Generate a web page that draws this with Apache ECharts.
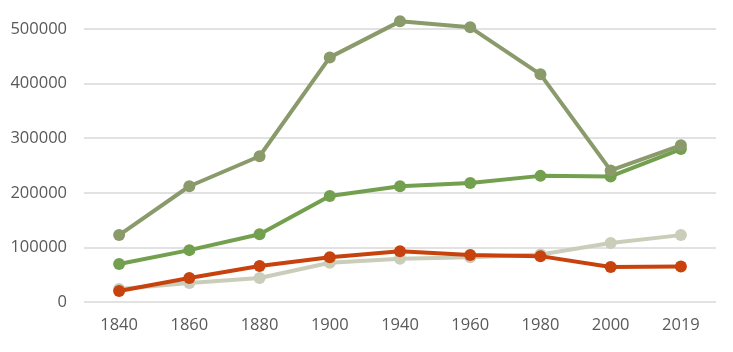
<!DOCTYPE html>
<html lang="en">
<head>
  <meta charset="UTF-8">
  <title>chart</title>
  <style>
    html, body { margin: 0; padding: 0; background: #fff; }
    #myEcharts { width: 733px; height: 352px; }
  </style>
  <script src="https://cdn.jsdelivr.net/npm/echarts@6/dist/echarts.min.js"></script>
</head>
<body>
<div id="myEcharts"></div>
<script>
  // data
  var years = ['1840', '1860', '1880', '1900', '1940', '1960', '1980', '2000', '2019'];
  var seriesA = [122500, 212000, 267000, 448000, 514000, 503000, 417000, 241000, 287000];
  var seriesB = [69500, 95000, 124000, 194000, 212000, 218000, 231000, 230000, 280000];
  var seriesC = [24000, 35000, 44000, 72000, 79000, 82000, 87000, 108000, 122500];
  var seriesD = [20000, 44000, 66000, 82000, 93000, 86000, 84000, 64000, 65000];

  var myChart = echarts.init(document.getElementById('myEcharts'));

  function line(data, color, z) {
    return {
      type: 'line',
      data: data,
      z: z,
      clip: false,
      symbol: 'circle',
      symbolSize: 12,
      lineStyle: { color: color, width: 4 },
      itemStyle: { color: color },
      animation: false
    };
  }

  var option = {
    animation: false,
    grid: { left: 84, right: 17, top: 29, bottom: 50 },
    xAxis: {
      type: 'category',
      data: years,
      boundaryGap: true,
      axisLine: { show: false },
      axisTick: { show: false },
      axisLabel: { color: '#595959', fontSize: 16.5, fontFamily: 'Open Sans', margin: 15 }
    },
    yAxis: {
      type: 'value',
      min: 0,
      max: 500000,
      interval: 100000,
      axisLine: { show: false },
      axisTick: { show: false },
      splitLine: { lineStyle: { color: '#d9d9d9', width: 1.5 } },
      axisLabel: {
        color: '#595959', fontSize: 16.5, fontFamily: 'Open Sans', margin: 17,
        formatter: function (v) { return String(v); }
      }
    },
    series: [
      line(seriesB, '#72a04e', 2),
      line(seriesA, '#8a9a6b', 3),
      line(seriesC, '#c9cdb9', 4),
      line(seriesD, '#c8420e', 5)
    ]
  };

  myChart.setOption(option);
</script>
</body>
</html>
